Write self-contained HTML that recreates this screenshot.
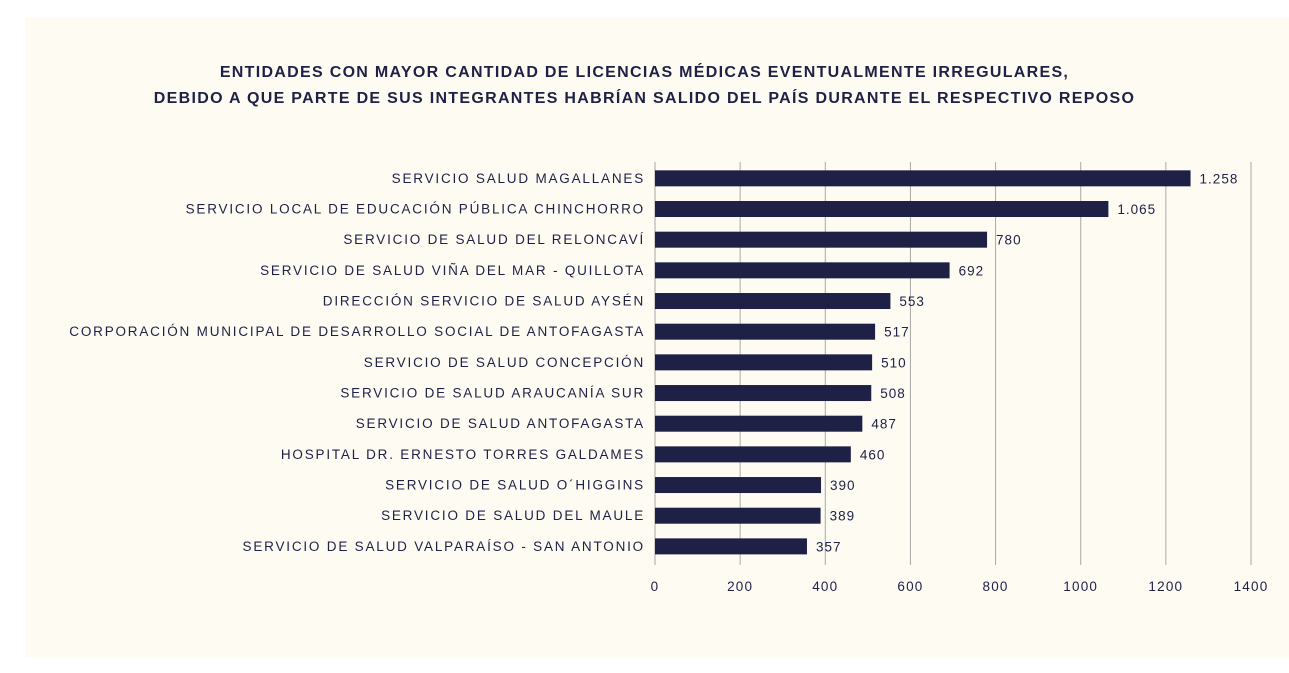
<!DOCTYPE html>
<html><head><meta charset="utf-8">
<style>
html,body{margin:0;padding:0;background:#fff;width:1289px;height:673px;overflow:hidden;font-family:"Liberation Sans",sans-serif;}
#panel{position:absolute;left:25px;top:17px;width:1264px;height:640px;background:#fdfbf2;}
.title{position:absolute;left:0;width:1289px;text-align:center;font-weight:bold;font-size:16px;color:#1e2046;letter-spacing:1.3px;}
</style></head><body>
<div id="panel"></div>
<div class="title" style="top:64px">ENTIDADES CON MAYOR CANTIDAD DE LICENCIAS MÉDICAS EVENTUALMENTE IRREGULARES,</div>
<div class="title" style="top:90px">DEBIDO A QUE PARTE DE SUS INTEGRANTES HABRÍAN SALIDO DEL PAÍS DURANTE EL RESPECTIVO REPOSO</div>
<svg id="chart" width="1289" height="673" style="position:absolute;left:0;top:0"></svg>
<script>
const categories=["SERVICIO SALUD MAGALLANES","SERVICIO LOCAL DE EDUCACIÓN PÚBLICA CHINCHORRO","SERVICIO DE SALUD DEL RELONCAVÍ","SERVICIO DE SALUD VIÑA DEL MAR - QUILLOTA","DIRECCIÓN SERVICIO DE SALUD AYSÉN","CORPORACIÓN MUNICIPAL DE DESARROLLO SOCIAL DE ANTOFAGASTA","SERVICIO DE SALUD CONCEPCIÓN","SERVICIO DE SALUD ARAUCANÍA SUR","SERVICIO DE SALUD ANTOFAGASTA","HOSPITAL DR. ERNESTO TORRES GALDAMES","SERVICIO DE SALUD O´HIGGINS","SERVICIO DE SALUD DEL MAULE","SERVICIO DE SALUD VALPARAÍSO - SAN ANTONIO"];
const values=[1258,1065,780,692,553,517,510,508,487,460,390,389,357];
const valueLabels=["1.258","1.065","780","692","553","517","510","508","487","460","390","389","357"];
const ticks=[0,200,400,600,800,1000,1200,1400];
const svg=document.getElementById('chart');
const NS="http://www.w3.org/2000/svg";
const x0=655,x1=1251,xmax=1400;
const xs=v=>x0+(v/xmax)*(x1-x0);
const rowTop=163,rowH=30.67;
const yc=i=>rowTop+rowH*(i+0.5);
function mk(t,a){const e=document.createElementNS(NS,t);for(const k in a)e.setAttribute(k,a[k]);svg.appendChild(e);return e;}
ticks.forEach((t,i)=>{
  const l=mk('line',{x1:xs(t),x2:xs(t),y1:162,y2:565,stroke:'#a8a8a8','stroke-width':1});
  
  
  const tx=mk('text',{x:xs(t),y:591,'text-anchor':'middle','font-size':13.5,fill:'#1e2046','letter-spacing':'1.2'});
  tx.textContent=t;
  
  
});
categories.forEach((c,i)=>{
  const y=yc(i);
  const r=mk('rect',{x:x0,y:y-8,width:xs(values[i])-x0,height:16,fill:'#1e2046'});
  
  
  const lb=mk('text',{x:645,y:y+4.5,'text-anchor':'end','font-size':13.5,fill:'#1e2046','letter-spacing':'1.8'});
  lb.textContent=c;
  
  
  const vl=mk('text',{x:xs(values[i])+9,y:y+5,'font-size':13.5,fill:'#1e2046','letter-spacing':'1'});
  vl.textContent=valueLabels[i];
  
  
});
</script>
</body></html>
